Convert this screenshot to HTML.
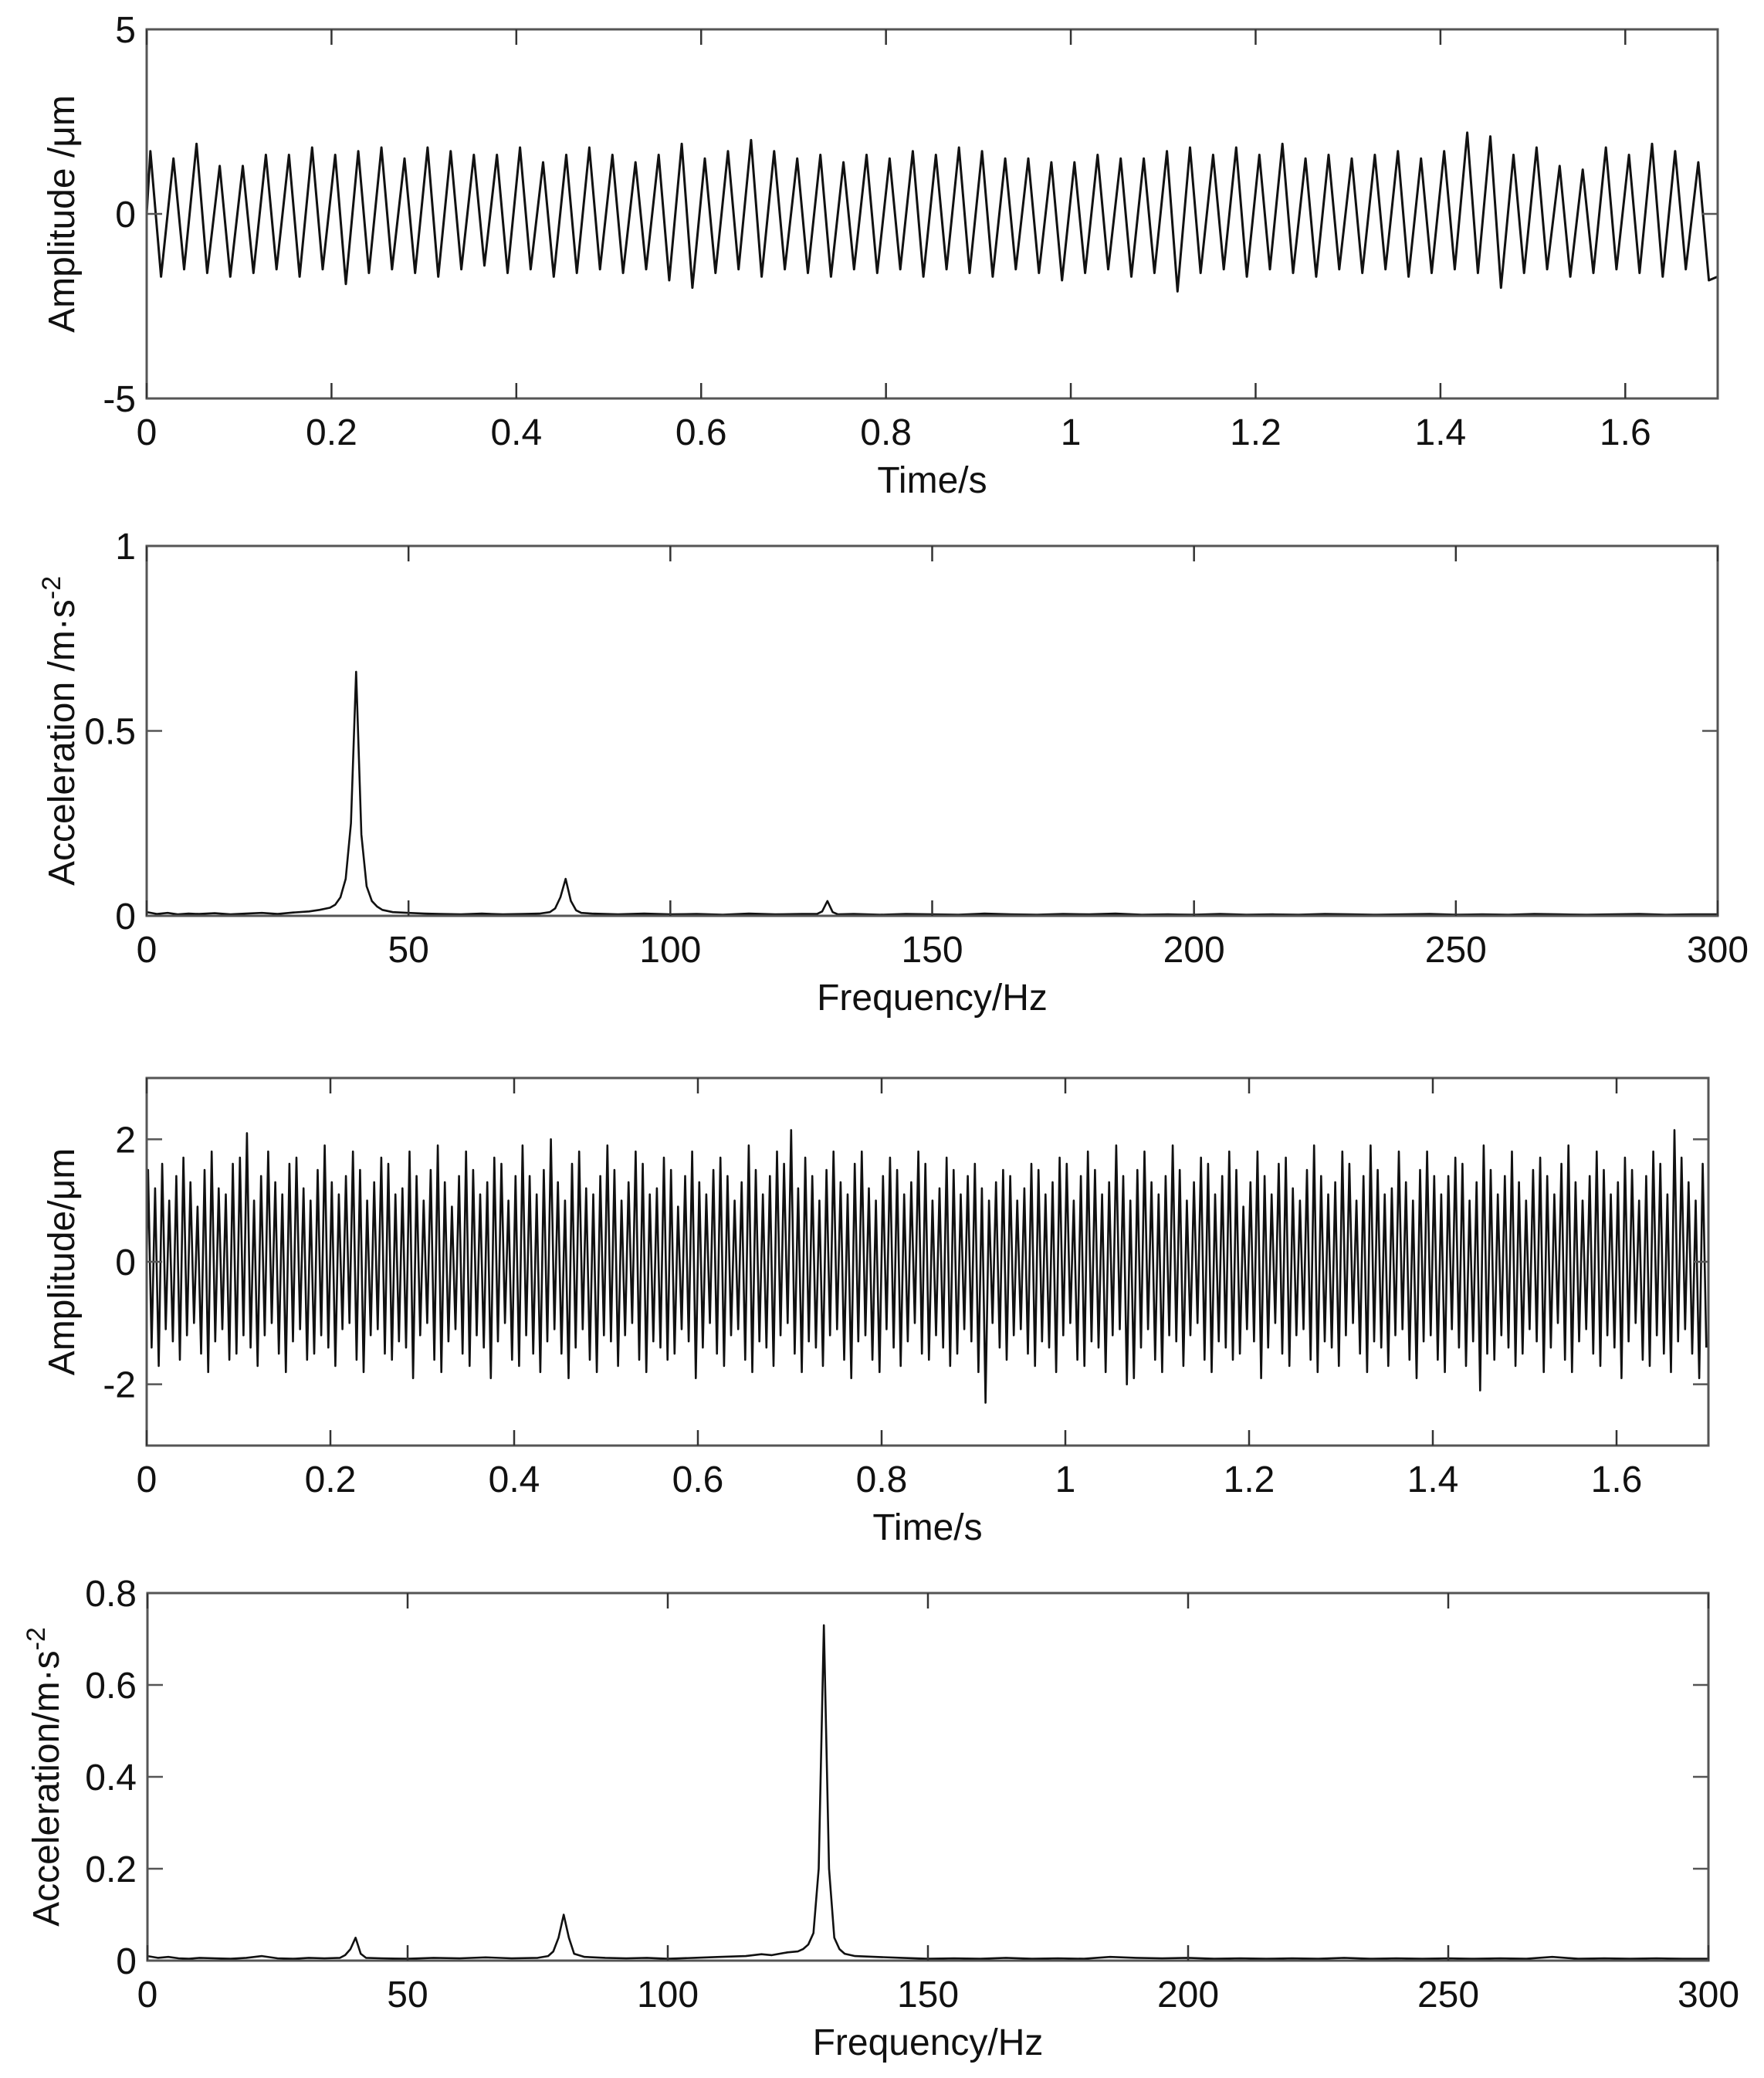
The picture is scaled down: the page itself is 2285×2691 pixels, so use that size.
<!DOCTYPE html>
<html><head><meta charset="utf-8"><style>
html,body{margin:0;padding:0;background:#fff;}
svg{display:block;font-family:"Liberation Sans",Arial,sans-serif;}
</style></head><body>
<svg id="fig" width="2285" height="2691" viewBox="0 0 2285 2691" xmlns="http://www.w3.org/2000/svg"></svg>
<script>
// ---------- data ----------
const timeTicks = [0,0.2,0.4,0.6,0.8,1,1.2,1.4,1.6];
const timeTickLabels = ["0","0.2","0.4","0.6","0.8","1","1.2","1.4","1.6"];
const freqTicks = [0,50,100,150,200,250,300];
const freqTickLabels = ["0","50","100","150","200","250","300"];
const amp1Ticks = [-5,0,5];
const amp3Ticks = [-2,0,2];
const acc2Ticks = [0,0.5,1];
const acc2TickLabels = ["0","0.5","1"];
const acc4Ticks = [0,0.2,0.4,0.6,0.8];
const acc4TickLabels = ["0","0.2","0.4","0.6","0.8"];

// panel 1: 40 Hz displacement, per-cycle peaks / troughs
const period1 = 0.025;
const peaks1 = [1.7,1.5,1.9,1.3,1.3,1.6,1.6,1.8,1.6,1.7,1.8,1.5,1.8,1.7,1.6,1.6,1.8,1.4,1.6,1.8,1.6,1.4,1.6,1.9,1.5,1.7,2.0,1.7,1.5,1.6,1.4,1.6,1.5,1.7,1.6,1.8,1.7,1.5,1.5,1.4,1.4,1.6,1.5,1.5,1.7,1.8,1.6,1.8,1.6,1.9,1.5,1.6,1.5,1.6,1.7,1.5,1.7,2.2,2.1,1.6,1.8,1.3,1.2,1.8,1.6,1.9,1.7,1.4];
const troughs1 = [-1.7,-1.5,-1.6,-1.7,-1.6,-1.5,-1.7,-1.5,-1.9,-1.6,-1.5,-1.6,-1.7,-1.5,-1.4,-1.6,-1.5,-1.7,-1.6,-1.5,-1.6,-1.5,-1.8,-2.0,-1.6,-1.5,-1.7,-1.5,-1.6,-1.7,-1.5,-1.6,-1.5,-1.7,-1.5,-1.6,-1.7,-1.5,-1.6,-1.8,-1.6,-1.5,-1.7,-1.6,-2.1,-1.6,-1.5,-1.7,-1.5,-1.6,-1.7,-1.5,-1.6,-1.5,-1.7,-1.6,-1.5,-1.6,-2.0,-1.6,-1.5,-1.7,-1.6,-1.5,-1.6,-1.7,-1.5,-1.8];

// panel 3: 130 Hz dominated displacement, per-cycle peaks / troughs
const period3 = 1.7/221;
const peaks3 = [1.5,1.2,1.6,1.0,1.4,1.7,1.3,0.9,1.5,1.8,1.2,1.1,1.6,1.7,2.1,1.0,1.4,1.8,1.3,1.1,
1.6,1.7,1.2,1.0,1.5,1.9,1.3,1.1,1.4,1.8,1.5,1.0,1.3,1.7,1.6,1.1,1.2,1.8,1.4,1.0,
1.5,1.9,1.3,0.9,1.4,1.8,1.5,1.1,1.3,1.7,1.6,1.0,1.4,1.9,1.4,1.1,1.5,2.0,1.3,1.0,
1.6,1.8,1.2,1.1,1.4,1.9,1.5,1.0,1.3,1.8,1.6,1.1,1.2,1.7,1.5,0.9,1.4,1.8,1.3,1.1,
1.5,1.7,1.4,1.0,1.3,1.9,1.5,1.1,1.4,1.8,1.6,2.15,1.2,1.7,1.4,1.0,1.5,1.8,1.3,1.1,
1.6,1.8,1.2,1.0,1.4,1.7,1.5,1.1,1.3,1.8,1.6,1.0,1.2,1.7,1.5,1.1,1.4,1.6,1.2,1.0,
1.3,1.5,1.4,1.0,1.2,1.6,1.5,1.1,1.3,1.7,1.6,1.0,1.4,1.8,1.5,1.1,1.3,1.9,1.4,1.0,
1.5,1.8,1.3,1.1,1.4,1.9,1.5,1.0,1.3,1.7,1.6,1.1,1.4,1.8,1.5,0.9,1.3,1.8,1.4,1.1,
1.6,1.7,1.2,1.0,1.5,1.9,1.4,1.1,1.3,1.8,1.6,1.0,1.4,1.9,1.5,1.1,1.2,1.8,1.3,1.0,
1.5,1.8,1.4,1.1,1.4,1.7,1.6,1.0,1.3,1.9,1.5,1.1,1.4,1.8,1.3,1.0,1.5,1.7,1.4,1.1,
1.6,1.9,1.3,1.0,1.4,1.8,1.5,1.1,1.3,1.7,1.5,1.0,1.4,1.8,1.6,1.1,2.15,1.7,1.3,1.0,1.6];
const troughs3 = [-1.4,-1.7,-1.1,-1.3,-1.6,-1.2,-1.0,-1.5,-1.8,-1.3,-1.1,-1.6,-1.5,-1.2,-1.4,-1.7,-1.2,-1.0,-1.5,-1.8,
-1.3,-1.1,-1.6,-1.5,-1.2,-1.4,-1.7,-1.1,-1.0,-1.6,-1.8,-1.2,-1.1,-1.5,-1.6,-1.3,-1.4,-1.9,-1.2,-1.0,
-1.6,-1.8,-1.3,-1.1,-1.5,-1.7,-1.2,-1.4,-1.9,-1.3,-1.0,-1.6,-1.7,-1.2,-1.5,-1.8,-1.3,-1.1,-1.5,-1.9,
-1.4,-1.1,-1.6,-1.8,-1.2,-1.3,-1.7,-1.2,-1.0,-1.6,-1.8,-1.3,-1.4,-1.6,-1.5,-1.1,-1.3,-1.9,-1.4,-1.0,
-1.5,-1.7,-1.2,-1.1,-1.6,-1.8,-1.3,-1.4,-1.7,-1.2,-1.0,-1.5,-1.8,-1.3,-1.4,-1.7,-1.2,-1.1,-1.6,-1.9,
-1.3,-1.2,-1.6,-1.8,-1.1,-1.4,-1.7,-1.3,-1.0,-1.5,-1.6,-1.2,-1.4,-1.7,-1.5,-1.1,-1.3,-1.8,-2.3,-1.0,
-1.4,-1.6,-1.2,-1.1,-1.5,-1.7,-1.3,-1.4,-1.8,-1.2,-1.0,-1.6,-1.7,-1.3,-1.4,-1.8,-1.2,-1.1,-2.0,-1.9,
-1.4,-1.1,-1.6,-1.8,-1.2,-1.3,-1.7,-1.2,-1.0,-1.6,-1.8,-1.3,-1.4,-1.6,-1.5,-1.1,-1.3,-1.9,-1.4,-1.0,
-1.5,-1.7,-1.2,-1.1,-1.6,-1.8,-1.3,-1.4,-1.7,-1.2,-1.0,-1.5,-1.8,-1.3,-1.4,-1.7,-1.2,-1.1,-1.6,-1.9,
-1.3,-1.2,-1.6,-1.8,-1.1,-1.4,-1.7,-1.3,-2.1,-1.5,-1.6,-1.2,-1.4,-1.7,-1.5,-1.1,-1.3,-1.8,-1.4,-1.0,
-1.6,-1.8,-1.3,-1.1,-1.5,-1.7,-1.2,-1.4,-1.9,-1.3,-1.0,-1.6,-1.7,-1.2,-1.5,-1.8,-1.3,-1.1,-1.5,-1.9,-1.4];

// panel 2 spectrum
const freq2 = [0,2,4,6,8,10,13,16,19,22,25,28,31,33,35,36,37,38,39,40,41,42,43,44,45,47,50,53,56,60,64,68,72,75,77,78,79,80,81,82,83,85,90,95,100,105,110,115,120,125,128,129,130,131,132,135,140,145,150,155,160,165,170,175,180,185,190,195,200,205,210,215,220,225,230,235,240,245,250,255,260,265,270,275,280,285,290,295,300];
const accel2 = [0.01,0.005,0.008,0.004,0.006,0.005,0.007,0.004,0.006,0.008,0.005,0.009,0.012,0.016,0.022,0.03,0.05,0.1,0.25,0.66,0.22,0.08,0.04,0.025,0.016,0.01,0.008,0.006,0.005,0.004,0.006,0.004,0.005,0.006,0.01,0.02,0.05,0.1,0.04,0.015,0.008,0.006,0.004,0.006,0.004,0.005,0.003,0.006,0.004,0.005,0.005,0.012,0.04,0.01,0.004,0.005,0.003,0.005,0.004,0.003,0.006,0.004,0.003,0.005,0.004,0.006,0.003,0.004,0.003,0.005,0.003,0.004,0.003,0.005,0.004,0.003,0.004,0.005,0.003,0.004,0.003,0.005,0.004,0.003,0.004,0.005,0.003,0.004,0.004];

// panel 4 spectrum
const freq4 = [0,2,4,6,8,10,13,16,19,22,25,28,31,34,37,38,39,40,41,42,45,50,55,60,65,70,75,77,78,79,80,81,82,84,88,92,96,100,105,110,115,118,120,123,125,126,127,128,129,130,131,132,133,134,136,140,145,150,155,160,165,170,175,180,185,190,195,200,205,210,215,220,225,230,235,240,245,250,255,260,265,270,275,280,285,290,295,300];
const accel4 = [0.01,0.006,0.008,0.005,0.004,0.006,0.005,0.004,0.006,0.01,0.005,0.004,0.006,0.005,0.006,0.012,0.025,0.05,0.015,0.006,0.005,0.004,0.006,0.005,0.007,0.005,0.006,0.01,0.02,0.05,0.1,0.05,0.015,0.008,0.006,0.005,0.006,0.004,0.006,0.008,0.01,0.014,0.012,0.018,0.02,0.025,0.035,0.06,0.2,0.73,0.2,0.05,0.025,0.015,0.01,0.008,0.006,0.004,0.005,0.004,0.006,0.004,0.005,0.004,0.008,0.006,0.005,0.006,0.004,0.005,0.004,0.005,0.004,0.006,0.004,0.005,0.004,0.005,0.004,0.005,0.004,0.008,0.004,0.005,0.004,0.005,0.004,0.004];

// ---------- drawing ----------
const NS = "http://www.w3.org/2000/svg";
const svg = document.getElementById("fig");
function el(tag, attrs, parent){
  const e = document.createElementNS(NS, tag);
  for (const k in attrs) e.setAttribute(k, attrs[k]);
  (parent||svg).appendChild(e);
  return e;
}
function zigzag(peaks, troughs, period, peakOffset, troughOffset, xmax){
  const pts = [[0,0]];
  for (let i=0;i<peaks.length;i++){
    const tp = i*period + peakOffset;
    if (tp <= xmax) pts.push([tp, peaks[i]]);
    const tt = i*period + troughOffset;
    if (i < troughs.length && tt <= xmax) pts.push([tt, troughs[i]]);
  }
  return pts;
}

function panel(p){
  const g = el("g", {});
  
  
  const W = p.x1 - p.x0, H = p.y1 - p.y0;
  const sx = v => p.x0 + (v - p.xmin)/(p.xmax - p.xmin)*W;
  const sy = v => p.y1 - (v - p.ymin)/(p.ymax - p.ymin)*H;
  let d = "";
  p.points.forEach((pt,i)=>{ d += (i?"L":"M") + sx(pt[0]).toFixed(1) + " " + sy(pt[1]).toFixed(1); });
  const line = el("path", {d:d, fill:"none", stroke:"#111", "stroke-width":p.lw||2.2, "stroke-linejoin":"round"}, g);
  
  
  const frame = el("rect", {x:p.x0, y:p.y0, width:W, height:H, fill:"none", stroke:"#555", "stroke-width":3}, g);
  
  
  p.xticks.forEach((v,i)=>{
    const x = sx(v);
    el("line", {x1:x, y1:p.y1, x2:x, y2:p.y1-20, stroke:"#333", "stroke-width":2.5}, g);
    el("line", {x1:x, y1:p.y0, x2:x, y2:p.y0+20, stroke:"#333", "stroke-width":2.5}, g);
    const t = el("text", {x:x, y:p.y1+60, "font-size":48, "text-anchor":"middle", fill:"#111"}, g);
    
    
    t.textContent = p.xlabels[i];
  });
  p.yticks.forEach((v,i)=>{
    const y = sy(v);
    el("line", {x1:p.x0, y1:y, x2:p.x0+20, y2:y, stroke:"#555", "stroke-width":2.5}, g);
    el("line", {x1:p.x1, y1:y, x2:p.x1-20, y2:y, stroke:"#555", "stroke-width":2.5}, g);
    const t = el("text", {x:p.x0-14, y:y+17, "font-size":48, "text-anchor":"end", fill:"#111"}, g);
    
    
    t.textContent = p.ylabels[i];
  });
  const xt = el("text", {x:(p.x0+p.x1)/2, y:p.y1+122, "font-size":48, "text-anchor":"middle", fill:"#111"}, g);
  
  
  xt.textContent = p.xtitle;
  const cy = (p.y0+p.y1)/2;
  const yt = el("text", {x:0, y:0, "font-size":48, "text-anchor":"middle", fill:"#111", transform:"translate(" + (p.ytx) + "," + cy + ") rotate(-90)"}, g);
  
  
  yt.textContent = p.ytitle;
  if (p.ysup){
    const s = el("tspan", {dy:-18, "font-size":34}, yt);
    s.textContent = p.ysup;
  }
}

panel({name:"panel-time-40hz", x0:190, x1:2225, y0:38, y1:516, xmin:0, xmax:1.7, ymin:-5, ymax:5,
  points: zigzag(peaks1, troughs1, period1, 0.004, 0.0155, 1.7).concat([[1.7,-1.7]]), lw:3,
  xticks: timeTicks, xlabels: timeTickLabels, yticks: amp1Ticks, ylabels: ["-5","0","5"],
  xtitle:"Time/s", ytitle:"Amplitude /μm", ytx:96});

panel({name:"panel-spectrum-40hz", x0:190, x1:2225, y0:707, y1:1186, xmin:0, xmax:300, ymin:0, ymax:1,
  points: freq2.map((f,i)=>[f, accel2[i]]), lw:2.6,
  xticks: freqTicks, xlabels: freqTickLabels, yticks: acc2Ticks, ylabels: acc2TickLabels,
  xtitle:"Frequency/Hz", ytitle:"Acceleration /m·s", ysup:"-2", ytx:96});

panel({name:"panel-time-130hz", x0:190, x1:2213, y0:1396, y1:1872, xmin:0, xmax:1.7, ymin:-3, ymax:3,
  points: zigzag(peaks3, troughs3, period3, 0.0015, 0.0054, 1.7), lw:2.6,
  xticks: timeTicks, xlabels: timeTickLabels, yticks: amp3Ticks, ylabels: ["-2","0","2"],
  xtitle:"Time/s", ytitle:"Amplitude/μm", ytx:96});

panel({name:"panel-spectrum-130hz", x0:191, x1:2213, y0:2063, y1:2539, xmin:0, xmax:300, ymin:0, ymax:0.8,
  points: freq4.map((f,i)=>[f, accel4[i]]), lw:2.6,
  xticks: freqTicks, xlabels: freqTickLabels, yticks: acc4Ticks, ylabels: acc4TickLabels,
  xtitle:"Frequency/Hz", ytitle:"Acceleration/m·s", ysup:"-2", ytx:76});
</script>
</body></html>
